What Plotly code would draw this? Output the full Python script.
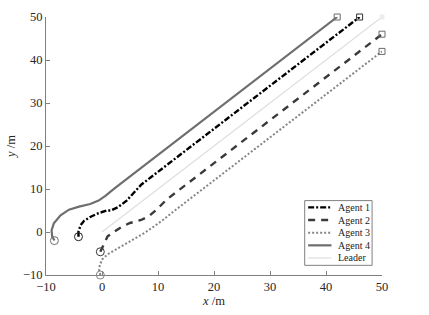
import plotly.graph_objects as go

# ---- data ----
leader_x = [0, 50]
leader_y = [0, 50]

a1_x = [-4.2, -4.2, -3.8, -3.2, -2.1, -0.6, 0.9, 1.6, 2.9, 4.4, 5.6, 7.0, 46]
a1_y = [-1.1, 0.1, 1.6, 2.6, 3.5, 4.4, 5.0, 5.0, 5.8, 7.3, 9.0, 11.0, 50]

a2_x = [-0.3, 0.0, 0.3, 1.0, 2.0, 3.5, 5.0, 7.0, 8.5, 10.0, 11.5, 50]
a2_y = [-4.6, -3.8, -3.0, -1.0, -0.1, 1.2, 2.1, 2.8, 3.8, 5.5, 7.5, 46]

a3_x = [-0.3, -0.5, -0.4, 0.0, 1.0, 2.3, 3.8, 5.9, 7.6, 9.3, 11.0, 13.0, 50]
a3_y = [-10.0, -8.8, -7.8, -6.4, -5.2, -4.2, -3.2, -1.6, -0.2, 1.3, 2.9, 5.0, 42]

a4_x = [-8.5, -8.9, -9.0, -8.6, -7.4, -5.9, -4.1, -2.1, -0.6, 0.6, 2.3, 4.7, 42]
a4_y = [-2.0, -1.0, 0.4, 2.0, 3.9, 5.2, 5.9, 6.5, 7.3, 8.4, 10.2, 12.6, 50]

names = ["Agent 1", "Agent 2", "Agent 3", "Agent 4", "Leader"]
xs = [a1_x, a2_x, a3_x, a4_x, leader_x]
ys = [a1_y, a2_y, a3_y, a4_y, leader_y]

x_ticks = [-10, 0, 10, 20, 30, 40, 50]
y_ticks = [-10, 0, 10, 20, 30, 40, 50]

# ---- styles ----
colors = ["#000000", "#3a3a3a", "#858585", "#6e6e6e", "#dedede"]
widths = [2.4, 2.4, 2.0, 2.2, 1.2]
dashes = ["6px,2px,2px,2px", "7px,6px", "2px,2px", "solid", "solid"]

FONT = "Liberation Serif, Times New Roman, serif"
W, H = 429, 315
ML, MR, MT, MB = 43, 47, 10, 38
PW, PH = W - ML - MR, H - MT - MB


def px2x(px):
    return (px - ML) / PW


def py2y(py):
    return (H - MB - py) / PH


fig = go.Figure()

# leader first (drawn underneath)
order = [4, 0, 1, 2, 3]
for i in order:
    fig.add_trace(go.Scatter(
        x=xs[i], y=ys[i], mode="lines", showlegend=False, cliponaxis=False,
        line=dict(color=colors[i], width=widths[i], dash=dashes[i]),
        hoverinfo="skip"))

# leader end marker (faint)
fig.add_trace(go.Scatter(
    x=[leader_x[-1]], y=[leader_y[-1]], mode="markers", showlegend=False,
    cliponaxis=False,
    marker=dict(symbol="square", size=5, color="#ececec"), hoverinfo="skip"))

# start circles and end squares for agents
for i in range(4):
    fig.add_trace(go.Scatter(
        x=[xs[i][0]], y=[ys[i][0]], mode="markers", showlegend=False,
        cliponaxis=False,
        marker=dict(symbol="circle-open", size=8,
                    color=colors[i] if i != 0 else "#222222",
                    line=dict(width=1)), hoverinfo="skip"))
    fig.add_trace(go.Scatter(
        x=[xs[i][-1]], y=[ys[i][-1]], mode="markers", showlegend=False,
        cliponaxis=False,
        marker=dict(symbol="square-open", size=6,
                    color="#6b6b6b" if i != 0 else "#333333",
                    line=dict(width=1)), hoverinfo="skip"))

# ---- custom legend ----
shapes = [dict(type="rect", xref="paper", yref="paper",
               x0=px2x(304), x1=px2x(372), y0=py2y(267), y1=py2y(200),
               line=dict(color="#808080", width=1), fillcolor="white", layer="above")]
annotations = []
for i, nm in enumerate(names):
    cy = 207 + 13.1 * i
    shapes.append(dict(type="line", xref="paper", yref="paper",
                       x0=px2x(307.5), x1=px2x(331), y0=py2y(cy), y1=py2y(cy),
                       line=dict(color=colors[i], width=widths[i], dash=dashes[i]),
                       layer="above"))
    annotations.append(dict(xref="paper", yref="paper", x=px2x(335.5), y=py2y(cy),
                            text=nm, showarrow=False, xanchor="left", yanchor="middle",
                            font=dict(family=FONT, size=10, color="#222222")))

axis_common = dict(
    showgrid=False, zeroline=False, showline=True, linecolor="#808080", linewidth=1,
    ticks="inside", ticklen=4, tickcolor="#808080", tickwidth=1,
    tickfont=dict(family=FONT, size=12.5, color="#262626"),
    mirror=False,
)

fig.update_layout(
    width=W, height=H,
    margin=dict(l=ML, r=MR, t=MT, b=MB),
    paper_bgcolor="white", plot_bgcolor="white",
    xaxis=dict(range=[-10, 50], tickvals=x_ticks,
               title=dict(text="<i>x</i> /m", standoff=2,
                          font=dict(family=FONT, size=12.5, color="#262626")),
               **axis_common),
    yaxis=dict(range=[-10, 50], tickvals=y_ticks,
               title=dict(text="<i>y</i> /m", standoff=4,
                          font=dict(family=FONT, size=12.5, color="#262626")),
               **axis_common),
    shapes=shapes,
    annotations=annotations,
)

fig.write_html("out.html")
